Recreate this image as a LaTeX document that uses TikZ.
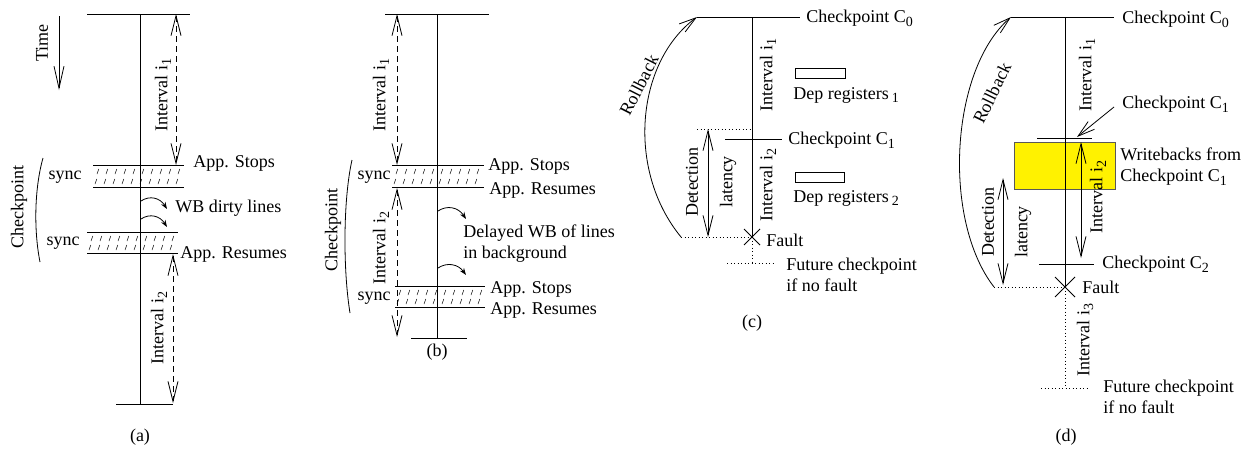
\documentclass[tikz,border=0pt]{standalone}
\usepackage{fontspec}
\setmainfont{Liberation Serif}
\usetikzlibrary{arrows.meta}
\newcommand\lsub[1]{\raisebox{-0.45ex}{\fontsize{14}{14}\selectfont #1}}
\newcommand\syncbox[5]{% x1 x2 ytop ybot count
  \draw (#1,#3) -- (#2,#3);
  \draw (#1,#4) -- (#2,#4);
  \foreach \k in {0,...,#5}{
    \draw[line width=0.5pt] (#1+4+9*\k,#3+9) -- ++(1.8,-5);
    \draw[line width=0.5pt] (#1+2+9*\k,#4-3) -- ++(1.8,-5);
  }}
\begin{document}
\begin{tikzpicture}[x=1pt,y=-1pt,line width=0.8pt,
  every node/.style={font=\fontsize{18}{21}\selectfont,inner sep=0pt},
  lbl/.style={anchor=west},
  vbarb/.style={-{Straight Barb[length=22pt,width=10pt]}},
  vvbarb/.style={{Straight Barb[length=20pt,width=10pt]}-{Straight Barb[length=20pt,width=10pt]}},
  dashline/.style={dash pattern=on 6pt off 4pt},
  dotline/.style={dash pattern=on 1pt off 2.5pt},
  wbarrow/.style={-{Stealth[length=7pt,width=5pt]}},
  rot/.style={rotate=90}]
\useasboundingbox (0,0) rectangle (1254,448);

% ---------------- (a) ----------------
\coordinate (aT) at (140,14); \coordinate (aB) at (140,404);
\draw (87,14) -- (190,14);
\draw (aT) -- (aB);
\draw (116,404) -- (173,404);
\syncbox{93}{184}{165}{187}{9}
\syncbox{87}{178}{232}{253}{9}
\coordinate (ai1t) at (176,14); \coordinate (ai1b) at (176,165);
\draw[vvbarb,dashline] (ai1t) -- (ai1b);
\node[rot] (ai1) at (163,95) {Interval i\lsub{1}};
\coordinate (ai2t) at (173,254); \coordinate (ai2b) at (173,403);
\draw[vvbarb,dashline] (ai2t) -- (ai2b);
\node[rot] (ai2) at (159,328) {Interval i\lsub{2}};
\node[anchor=east] (async1) at (82,177) {sync};
\node[anchor=east] (async2) at (80,243) {sync};
\node[lbl] (astop) at (193,163) {App. Stops};
\node[lbl] (ares) at (180,254) {App. Resumes};
\node[lbl] (awb) at (175,208) {WB dirty lines};
\draw[wbarrow] (141,201) .. controls (150,195) and (160,198) .. (167,209);
\draw[wbarrow] (141,219) .. controls (150,213) and (160,216) .. (167,227);
\node[rot] (acp) at (19,207) {Checkpoint};
\draw (43,158) .. controls (34,190) and (34,232) .. (40,262);
\node[rot] (atime) at (42,43) {Time};
\coordinate (at1) at (59,16); \coordinate (at2) at (59,90);
\draw[vbarb] (at1) -- (at2);
\node (alab) at (140,437) {(a)};

% ---------------- (b) ----------------
\coordinate (bT) at (437,14); \coordinate (bB) at (437,338);
\draw (385,14) -- (489,14);
\draw (bT) -- (bB);
\draw (411,338) -- (467,338);
\syncbox{392}{484}{165}{187}{9}
\syncbox{395}{485}{286}{307}{9}
\coordinate (bi1t) at (397,14); \coordinate (bi1b) at (397,165);
\draw[vvbarb,dashline] (bi1t) -- (bi1b);
\node[rot] (bi1) at (381,95) {Interval i\lsub{1}};
\coordinate (bi2t) at (397,188); \coordinate (bi2b) at (397,337);
\draw[vvbarb,dashline] (bi2t) -- (bi2b);
\node[rot] (bi2) at (381,248) {Interval i\lsub{2}};
\node[anchor=east] (bsync1) at (391,177) {sync};
\node[anchor=east] (bsync2) at (391,298) {sync};
\node[lbl] (bstop1) at (488,166) {App. Stops};
\node[lbl] (bres1) at (489,190) {App. Resumes};
\node[lbl] (bstop2) at (490,289) {App. Stops};
\node[lbl] (bres2) at (490,310) {App. Resumes};
\node[lbl,align=left] (bdel) at (463,244) {Delayed WB of lines\\in background};
\draw[wbarrow] (438,211) .. controls (447,205) and (458,207) .. (466,219);
\draw[wbarrow] (438,268) .. controls (447,262) and (458,264) .. (466,275);
\node[rot] (bcp) at (333,230) {Checkpoint};
\draw (352,160) .. controls (343,200) and (343,270) .. (350,313);
\node (blab) at (437,352) {(b)};

% ---------------- (c) ----------------
\coordinate (cT) at (752,17); \coordinate (cF) at (752,237);
\coordinate (cE) at (752,263);
\draw (697,17) -- (800,17);
\node[lbl] (cc0) at (806,18) {Checkpoint C\lsub{0}};
\draw (cT) -- (cF);
\draw[dotline] (cF) -- (cE);
\node[rot] (ci1) at (768,75) {Interval i\lsub{1}};
\draw (795,68) rectangle (845,78);
\node[lbl] (cdep1) at (793,95) {Dep registers\,\lsub{1}};
\draw[dotline] (697,129) -- (752,129);
\draw (725,139) -- (782,139);
\node[lbl] (cc1) at (788,140) {Checkpoint C\lsub{1}};
\node[rot] (ci2) at (768,185) {Interval i\lsub{2}};
\draw (795,172) rectangle (844,182);
\node[lbl] (cdep2) at (793,198) {Dep registers\,\lsub{2}};
\coordinate (cdt) at (708,129); \coordinate (cdb) at (708,237);
\draw[vvbarb] (cdt) -- (cdb);
\node[rot] (cdet) at (692,182) {Detection};
\node[rot] (clat) at (728,182) {latency};
\coordinate (crb0) at (681,237); \coordinate (crb1) at (697,17);
\draw[-{Straight Barb[length=17pt,width=10pt]}] (crb0) .. controls (626,170) and (636,62) .. (crb1);
\node[rotate=63] (croll) at (639,85) {Rollback};
\draw[dotline] (crb0) -- (cF);
\draw (744,229) -- (760,245);
\draw (744,245) -- (760,229);
\node[lbl] (cfault) at (766,240) {Fault};
\draw[dotline] (727,263) -- (776,263);
\node[lbl,align=left] (cfut) at (786,275) {Future checkpoint\\if no fault};
\node (clab) at (752,323) {(c)};

% ---------------- (d) ----------------
\coordinate (dT) at (1065,17); \coordinate (dF) at (1065,287);
\coordinate (dE) at (1065,388);
\fill[yellow] (1014,142) rectangle (1115,189);
\draw[gray!70!black] (1014,142) rectangle (1115,189);
\draw (1011,17) -- (1114,17);
\node[lbl] (dc0) at (1122,19) {Checkpoint C\lsub{0}};
\draw (dT) -- (dF);
\draw[dotline] (dF) -- (dE);
\node[rot] (di1) at (1087,75) {Interval i\lsub{1}};
\node[lbl] (dc1) at (1122,104) {Checkpoint C\lsub{1}};
\coordinate (dc1a) at (1114,107); \coordinate (dc1b) at (1077,137);
\draw[-{Straight Barb[length=17pt,width=10pt]}] (dc1a) -- (dc1b);
\draw (1037,138) -- (1092,138);
\node[lbl,align=left] (dwb) at (1120,167) {Writebacks from\\Checkpoint C\lsub{1}};
\coordinate (di2t) at (1081,142); \coordinate (di2b) at (1081,258);
\draw[vvbarb] (di2t) -- (di2b);
\node[rot] (di2) at (1098,197) {Interval i\lsub{2}};
\draw (1039,264) -- (1094,264);
\node[lbl] (dc2) at (1102,264) {Checkpoint C\lsub{2}};
\coordinate (ddt) at (1003,178); \coordinate (ddb) at (1003,285);
\draw[vvbarb] (ddt) -- (ddb);
\node[rot] (ddet) at (988,222) {Detection};
\node[rot] (dlat) at (1023,232) {latency};
\coordinate (drb0) at (994,287); \coordinate (drb1) at (1011,17);
\draw[-{Straight Barb[length=17pt,width=10pt]}] (drb0) .. controls (942,220) and (950,70) .. (drb1);
\node[rotate=64] (droll) at (992,93) {Rollback};
\draw[dotline] (drb0) -- (dF);
\draw (1055,277) -- (1075,297);
\draw (1055,297) -- (1075,277);
\node[lbl] (dfault) at (1082,287) {Fault};
\node[rot] (di3) at (1085,340) {Interval i\lsub{3}};
\draw[dotline] (1041,388) -- (1090,388);
\node[lbl,align=left] (dfut) at (1103,397) {Future checkpoint\\if no fault};
\node (dlab) at (1066,437) {(d)};
\end{tikzpicture}
\end{document}
